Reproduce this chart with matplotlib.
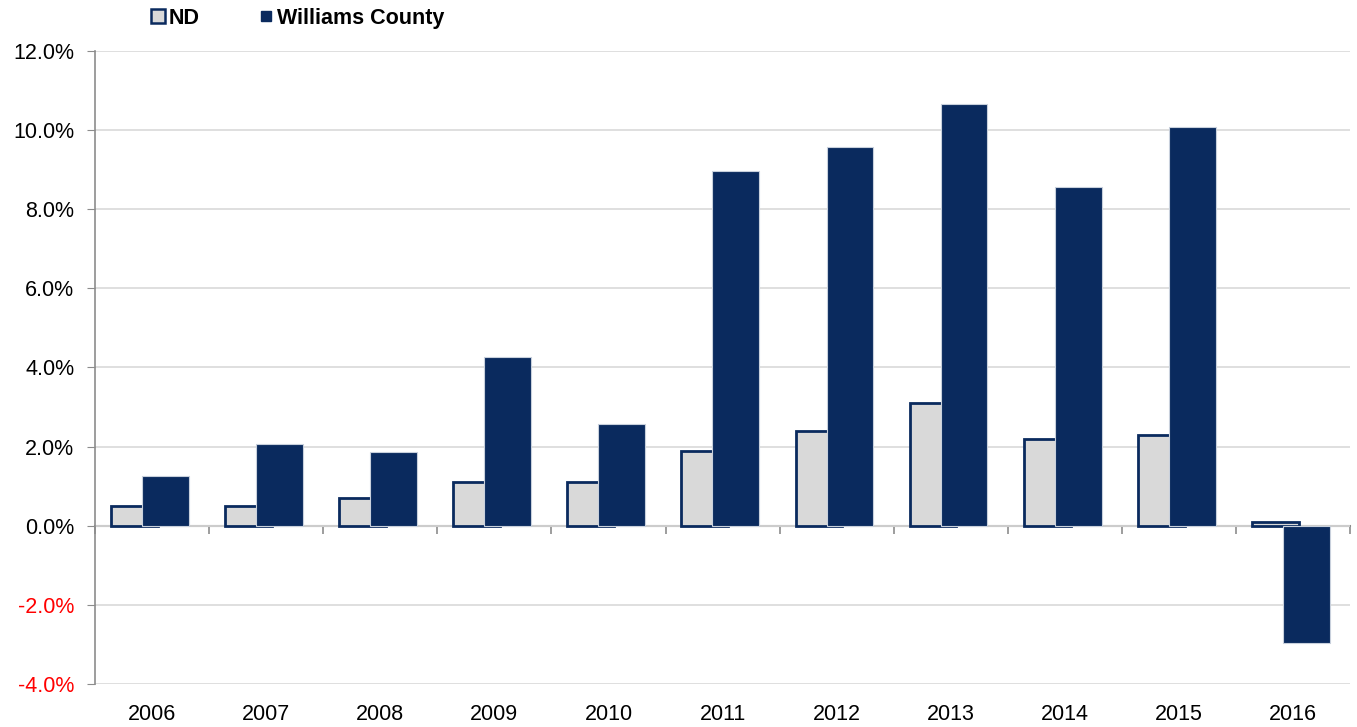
import matplotlib
matplotlib.use("Agg")
import matplotlib.pyplot as plt
from matplotlib.lines import Line2D
from matplotlib.ticker import FuncFormatter
import numpy as np

plt.rcParams["font.family"] = ["Liberation Sans", "DejaVu Sans"]

years = ["2006", "2007", "2008", "2009", "2010", "2011",
         "2012", "2013", "2014", "2015", "2016"]
nd = [0.5, 0.5, 0.7, 1.1, 1.1, 1.9, 2.4, 3.1, 2.2, 2.3, 0.1]
williams = [1.27, 2.07, 1.87, 4.27, 2.57, 8.97, 9.57, 10.67, 8.57, 10.07, -2.97]

NAVY = "#0a2a5e"
GREY_FILL = "#d9d9d9"
AXIS = "#8c8c8c"

fig = plt.figure(figsize=(13.57, 7.27), dpi=100)
ax = fig.add_axes([0.070, 0.059, 0.925, 0.871])

x = np.arange(len(years))
w = 0.41
off = 0.136
shift = -0.02
ax.bar(x + shift - off, nd, w, color=GREY_FILL, edgecolor=NAVY, linewidth=2, zorder=2)
ax.bar(x + shift + off, williams, w, color=NAVY, edgecolor="#c8d0dc", linewidth=0.8, zorder=3)

ax.set_xlim(-0.5, len(years) - 0.5)
ax.set_ylim(-4, 12)
ax.set_yticks(np.arange(-4, 12.1, 2))
ax.yaxis.set_major_formatter(FuncFormatter(lambda v, p: f"{v:.1f}%"))
ax.grid(axis="y", color="#d9d9d9", linewidth=1.2, zorder=0)
ax.set_axisbelow(True)

for s in ("top", "right", "bottom"):
    ax.spines[s].set_visible(False)
ax.spines["left"].set_color(AXIS)
ax.spines["left"].set_linewidth(1.2)
ax.tick_params(axis="y", length=6, color=AXIS, labelsize=15.5, pad=9)
for lab in ax.get_yticklabels():
    if lab.get_text().startswith("-"):
        lab.set_color("#ff0000")

# year labels along the bottom, no marks
ax.set_xticks(x)
ax.set_xticklabels(years)
ax.tick_params(axis="x", length=0, labelsize=15.5, pad=14)

# category axis sits at zero, with ticks between the years
zero_frac = (0 - ax.get_ylim()[0]) / (ax.get_ylim()[1] - ax.get_ylim()[0])
sec = ax.secondary_xaxis(zero_frac)
sec.set_xticks(np.arange(-0.5, len(years), 1))
sec.set_xticklabels([])
sec.tick_params(axis="x", direction="out", length=6, color=AXIS, width=1.2)
sec.spines["bottom"].set_color(AXIS)
sec.spines["bottom"].set_linewidth(1.5)

handles = [
    Line2D([], [], marker="s", linestyle="none", markersize=10,
           markerfacecolor=GREY_FILL, markeredgecolor=NAVY, markeredgewidth=1.8),
    Line2D([], [], marker="s", linestyle="none", markersize=7,
           markerfacecolor=NAVY, markeredgecolor=NAVY),
]
fig.legend(handles, ["ND", "Williams County"], loc="upper left",
           bbox_to_anchor=(0.094, 1.016), ncol=2, frameon=False,
           prop={"size": 15.5, "weight": "bold"}, handletextpad=0.0,
           columnspacing=2.6, handlelength=1.0)

fig.savefig("out.png", dpi=100)
